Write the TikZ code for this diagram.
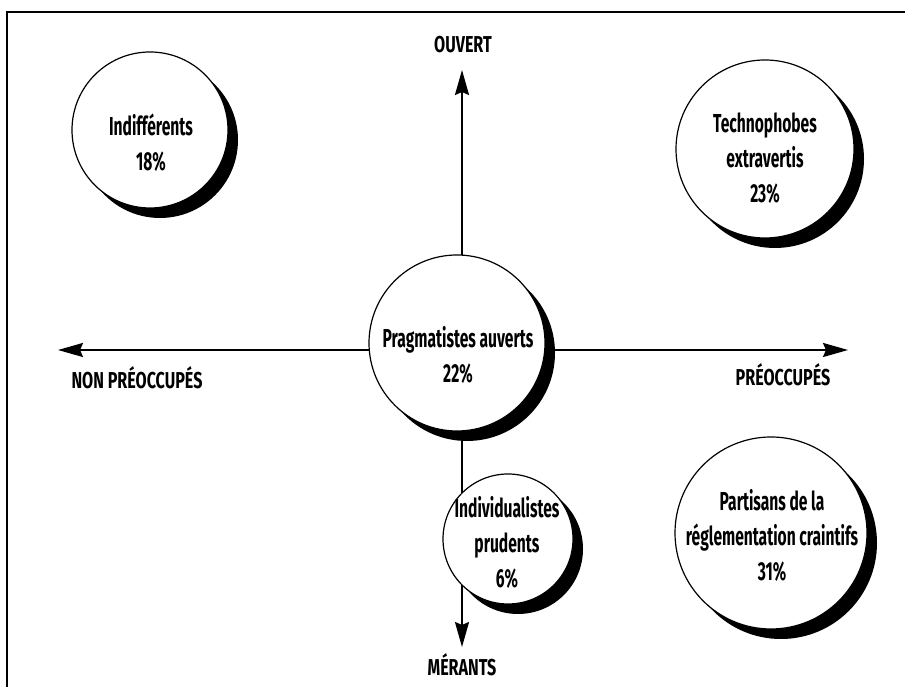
\documentclass[tikz,border=0pt]{standalone}
\usepackage{fontspec}
\setmainfont{Fira Sans}[FakeStretch=0.6]
\newfontfamily\lblfont{Fira Sans}[FakeStretch=0.7]
\usetikzlibrary{arrows.meta}
\begin{document}
\begin{tikzpicture}[x=1pt,y=1pt,
  ctext/.style={font=\fontsize{26}{35}\selectfont\bfseries, align=center, inner sep=0pt},
  axlbl/.style={font=\lblfont\fontsize{23}{25}\selectfont\bfseries, inner sep=0pt},
  bubble/.style={circle, draw=black, line width=1.2pt, fill=white, minimum size=#1, inner sep=0pt},
  shadowdisc/.style={circle, fill=black, minimum size=#1, inner sep=0pt},
  axis/.style={line width=2pt, -{Stealth[length=25pt,width=14pt,inset=3pt]}}]
\useasboundingbox (0,0) rectangle (905,687);
% frame
\coordinate (fbl) at (7,0);
\coordinate (ftl) at (7,675);
\coordinate (ftr) at (905,675);
\draw[line width=1.8pt] (fbl) -- (ftl) -- (ftr);
% axes
\coordinate (origin) at (462,337);
\coordinate (west) at (58,337);
\coordinate (east) at (848,337);
\coordinate (north) at (462,617);
\coordinate (south) at (462,40);
\draw[axis] (origin) -- (west);
\draw[axis] (origin) -- (east);
\draw[axis] (origin) -- (north);
\draw[axis] (origin) -- (south);
% axis labels
\node[axlbl] (lnorth) at (463,642) {OUVERT};
\node[axlbl] (lsouth) at (462,22) {MÉRANTS};
\node[axlbl] (lwest) at (137,309) {NON PRÉOCCUPÉS};
\node[axlbl] (least) at (783,312) {PRÉOCCUPÉS};
% bubbles
\node[shadowdisc=156pt] (ind-s) at (160,547) {};
\node[bubble=156pt] (ind) at (150,557) {};
\node[ctext] (ind-t) at (151,544.5) {Indifférents\\18\%};

\node[shadowdisc=178pt] (tech-s) at (775,528) {};
\node[bubble=178pt] (tech) at (765,538) {};
\node[ctext] (tech-t) at (765,529) {Technophobes\\extravertis\\23\%};

\node[shadowdisc=176pt] (prag-s) at (467,334) {};
\node[bubble=176pt] (prag) at (457,344) {};
\node[ctext] (prag-t) at (458,332) {Pragmatistes auverts\\22\%};

\node[shadowdisc=130pt] (indiv-s) at (518,138) {};
\node[bubble=130pt] (indiv) at (508,148) {};
\node[ctext] (indiv-t) at (507,145) {Individualistes\\prudents\\6\%};

\node[shadowdisc=192pt] (part-s) at (781,144) {};
\node[bubble=192pt] (part) at (771,154) {};
\node[ctext] (part-t) at (772,152) {Partisans de la\\réglementation craintifs\\31\%};
\end{tikzpicture}
\end{document}
